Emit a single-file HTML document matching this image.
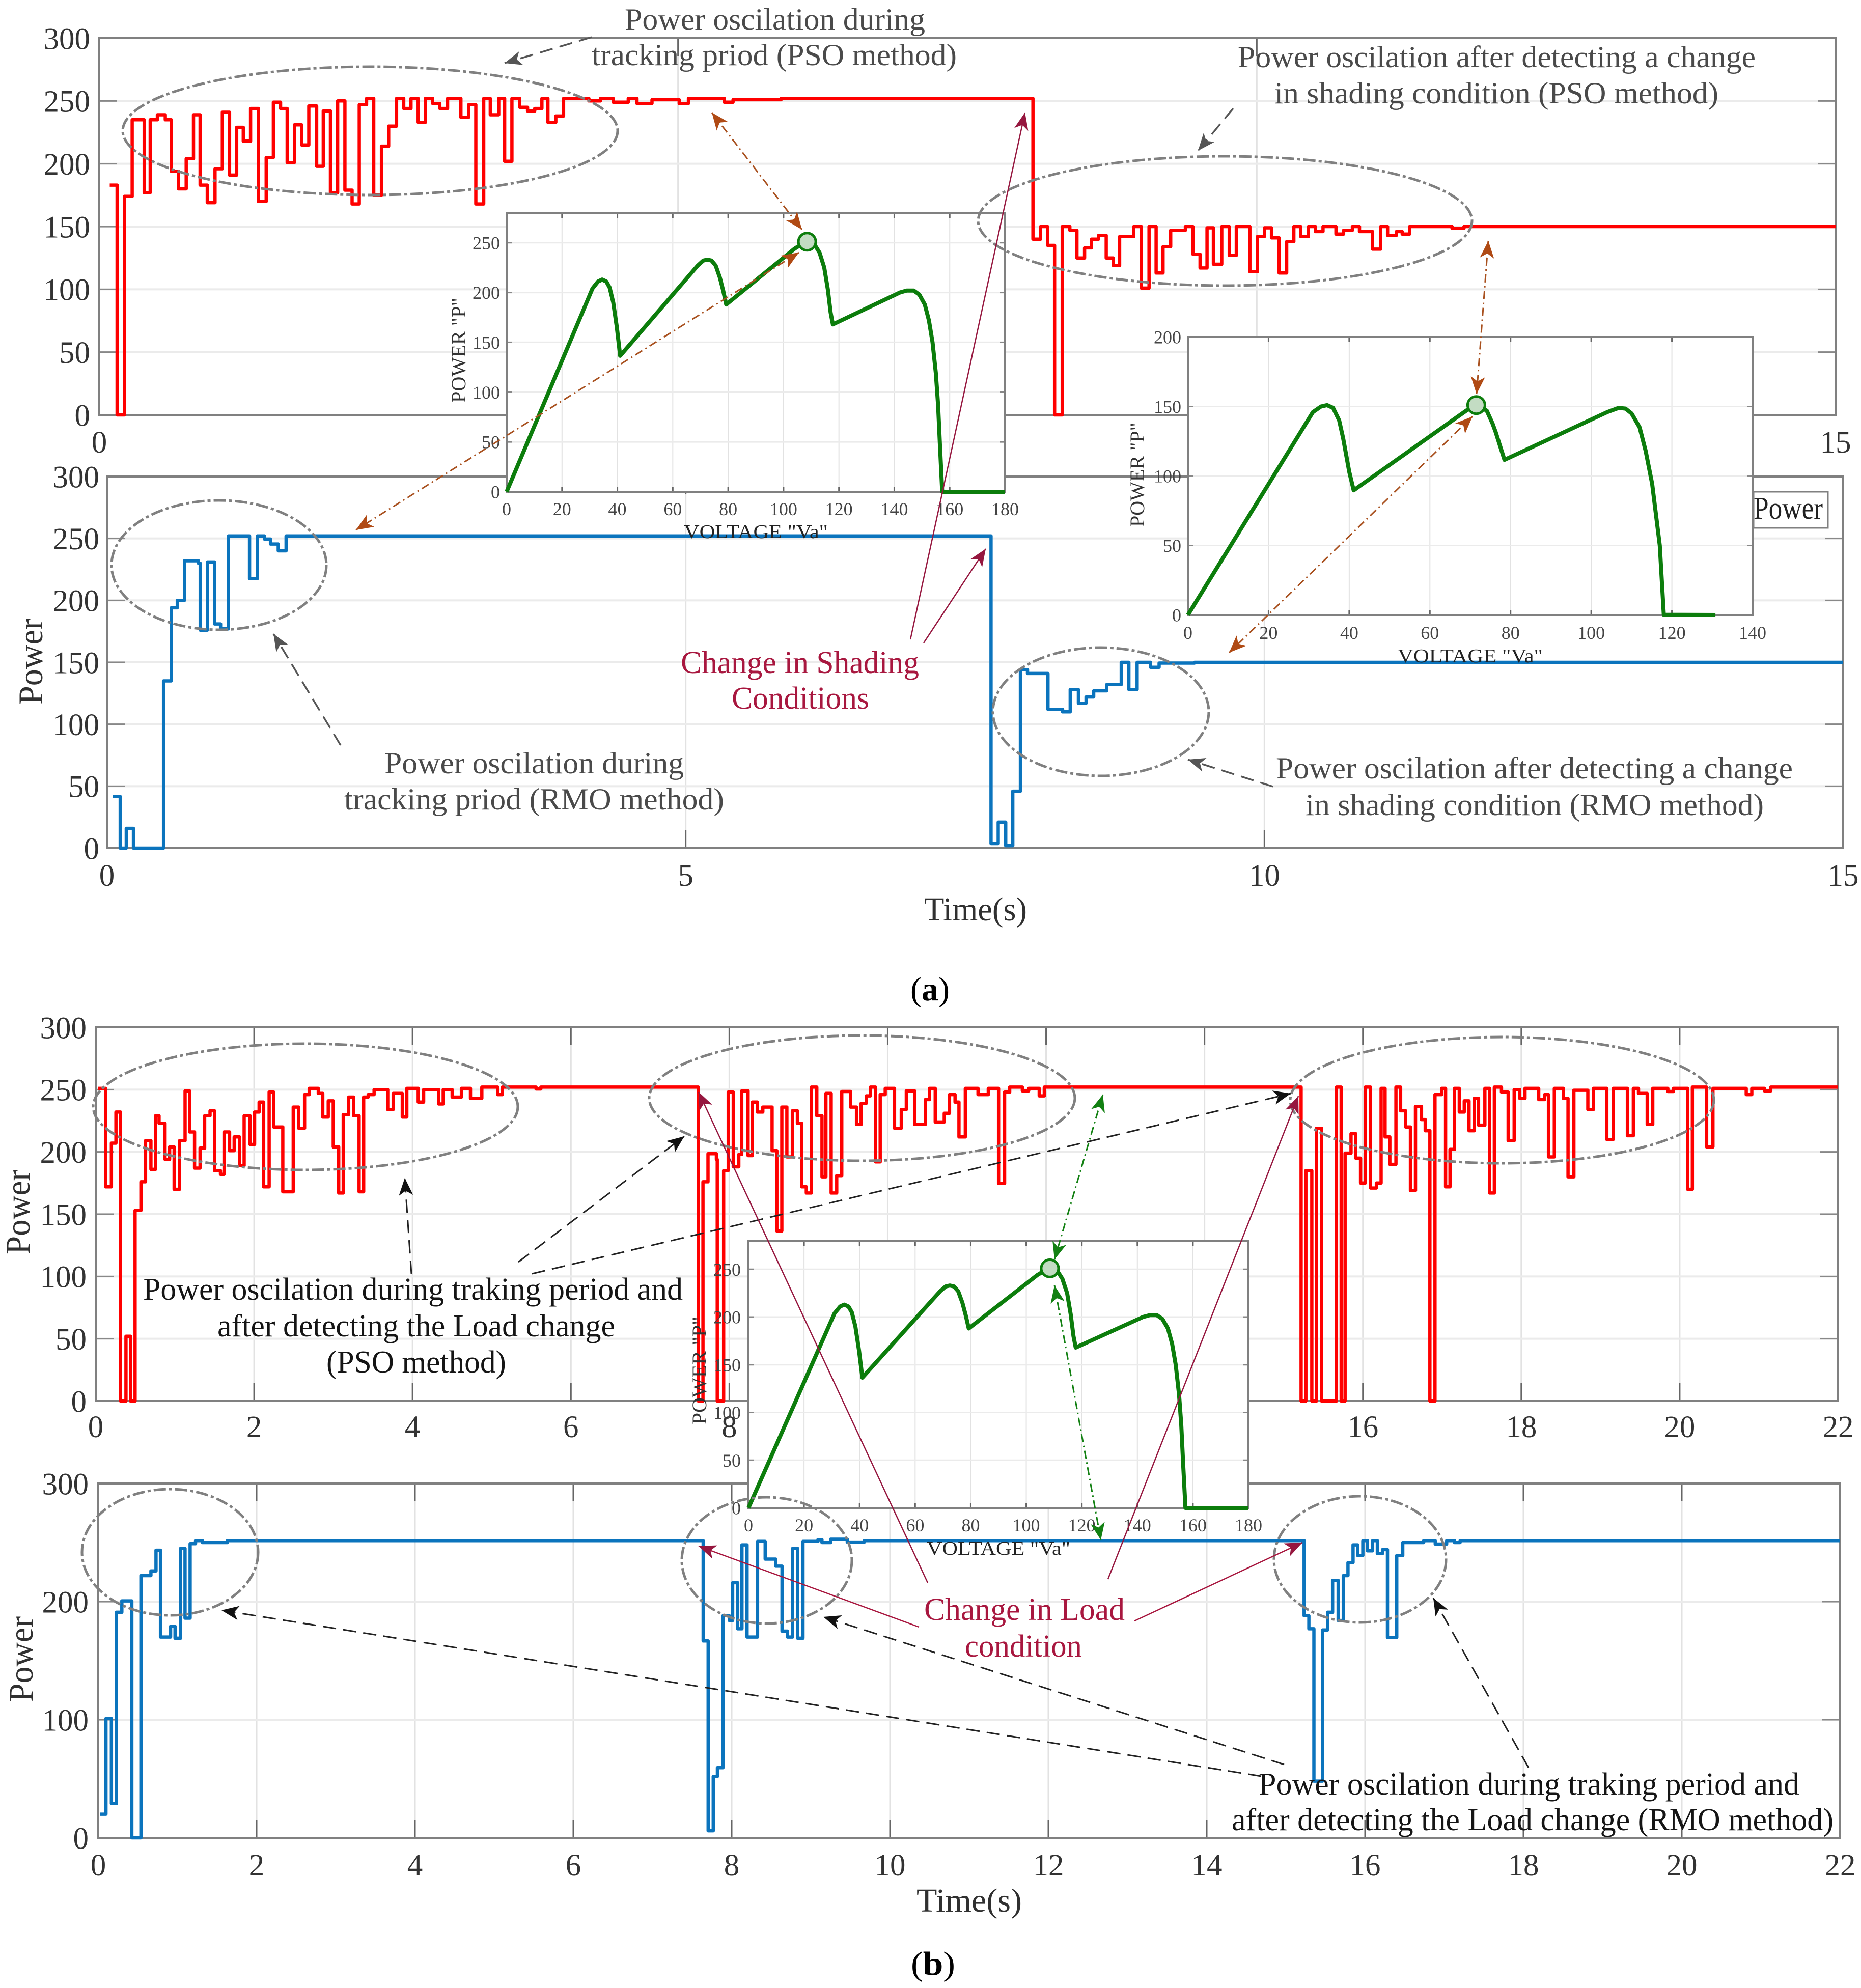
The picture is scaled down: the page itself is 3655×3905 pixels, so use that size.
<!DOCTYPE html>
<html lang="en">
<head>
<meta charset="utf-8">
<title>Power oscillation comparison of PSO and RMO methods</title>
<style>
html,body{margin:0;padding:0;background:#fff;}
svg{display:block;font-family:"Liberation Serif",serif;}
.ann{font-size:60px;fill:#4a4a4a;}
.blk{font-size:62px;fill:#151515;}
.red{font-size:62px;fill:#a8173f;}
.tm{font-size:66px;fill:#303030;}
</style>
</head>
<body>
<svg xmlns="http://www.w3.org/2000/svg" width="3655" height="3905" viewBox="0 0 3655 3905">
<defs>
<marker id="hGray" viewBox="0 0 34 28" refX="34" refY="14" markerWidth="34" markerHeight="28" markerUnits="userSpaceOnUse" orient="auto-start-reverse"><path d="M34,14 L0,0 L9,14 L0,28 Z" fill="#555"/></marker>
<marker id="hBrown" viewBox="0 0 34 28" refX="34" refY="14" markerWidth="34" markerHeight="28" markerUnits="userSpaceOnUse" orient="auto-start-reverse"><path d="M34,14 L0,0 L9,14 L0,28 Z" fill="#b04a14"/></marker>
<marker id="hCrim" viewBox="0 0 34 28" refX="34" refY="14" markerWidth="34" markerHeight="28" markerUnits="userSpaceOnUse" orient="auto-start-reverse"><path d="M34,14 L0,0 L9,14 L0,28 Z" fill="#96173f"/></marker>
<marker id="hBlack" viewBox="0 0 34 28" refX="34" refY="14" markerWidth="34" markerHeight="28" markerUnits="userSpaceOnUse" orient="auto-start-reverse"><path d="M34,14 L0,0 L9,14 L0,28 Z" fill="#111"/></marker>
<marker id="hGreen" viewBox="0 0 34 28" refX="34" refY="14" markerWidth="34" markerHeight="28" markerUnits="userSpaceOnUse" orient="auto-start-reverse"><path d="M34,14 L0,0 L9,14 L0,28 Z" fill="#128012"/></marker>
</defs>
<rect width="3655" height="3905" fill="#fff"/>
<g id="panels"></g>
<g id="insets"></g>

<g fill="none" stroke="#808080" stroke-width="5" stroke-dasharray="24 6 6 6">
<ellipse cx="727" cy="257" rx="486" ry="126"/>
<ellipse cx="2406" cy="434" rx="485" ry="127"/>
<ellipse cx="430" cy="1110" rx="211" ry="127"/>
<ellipse cx="2162" cy="1398" rx="212" ry="126"/>
<ellipse cx="600" cy="2174" rx="417" ry="124"/>
<ellipse cx="1693" cy="2157" rx="418" ry="123"/>
<ellipse cx="2950" cy="2161" rx="416" ry="124"/>
<ellipse cx="334" cy="3049" rx="173" ry="124"/>
<ellipse cx="1506" cy="3065" rx="167" ry="124"/>
<ellipse cx="2671" cy="3063" rx="169" ry="124"/>
</g>

<g fill="none">
<path d="M1162,73 L991,124" stroke="#555" stroke-width="3.5" stroke-dasharray="26 14" marker-end="url(#hGray)"/>
<path d="M2422,213 L2353,296" stroke="#555" stroke-width="3.5" stroke-dasharray="26 14" marker-end="url(#hGray)"/>
<path d="M669,1464 L537,1245" stroke="#555" stroke-width="3.5" stroke-dasharray="26 14" marker-end="url(#hGray)"/>
<path d="M2500,1545 L2333,1492" stroke="#555" stroke-width="3.5" stroke-dasharray="26 14" marker-end="url(#hGray)"/>
<path d="M1398,221 L1575,451" stroke="#a8501e" stroke-width="3" stroke-dasharray="16 7 3 7" marker-start="url(#hBrown)" marker-end="url(#hBrown)"/>
<path d="M1569,496 L699,1041" stroke="#a8501e" stroke-width="3" stroke-dasharray="16 7 3 7" marker-start="url(#hBrown)" marker-end="url(#hBrown)"/>
<path d="M2923,473 L2900,774" stroke="#a8501e" stroke-width="3" stroke-dasharray="16 7 3 7" marker-start="url(#hBrown)" marker-end="url(#hBrown)"/>
<path d="M2892,818 L2414,1282" stroke="#a8501e" stroke-width="3" stroke-dasharray="16 7 3 7" marker-start="url(#hBrown)" marker-end="url(#hBrown)"/>
<path d="M1788,1256 L2013,221" stroke="#96173f" stroke-width="2.5" marker-end="url(#hCrim)"/>
<path d="M1814,1263 L1936,1078" stroke="#96173f" stroke-width="2.5" marker-end="url(#hCrim)"/>
<path d="M808,2502 L795,2314" stroke="#222" stroke-width="3" stroke-dasharray="26 14" marker-end="url(#hBlack)"/>
<path d="M1018,2479 L1344,2232" stroke="#222" stroke-width="3" stroke-dasharray="26 14" marker-end="url(#hBlack)"/>
<path d="M1045,2502 L2535,2148" stroke="#222" stroke-width="3" stroke-dasharray="26 14" marker-end="url(#hBlack)"/>
<path d="M2477,3489 L435,3163" stroke="#222" stroke-width="3" stroke-dasharray="26 14" marker-end="url(#hBlack)"/>
<path d="M2522,3466 L1617,3176" stroke="#222" stroke-width="3" stroke-dasharray="26 14" marker-end="url(#hBlack)"/>
<path d="M3002,3472 L2815,3139" stroke="#222" stroke-width="3" stroke-dasharray="26 14" marker-end="url(#hBlack)"/>
<path d="M2166,2150 L2071,2474" stroke="#128012" stroke-width="3" stroke-dasharray="16 7 3 7" marker-start="url(#hGreen)" marker-end="url(#hGreen)"/>
<path d="M2071,2525 L2162,3025" stroke="#128012" stroke-width="3" stroke-dasharray="16 7 3 7" marker-start="url(#hGreen)" marker-end="url(#hGreen)"/>
<path d="M1822,3109 L1372,2145" stroke="#96173f" stroke-width="2.5" marker-end="url(#hCrim)"/>
<path d="M2176,3102 L2550,2153" stroke="#96173f" stroke-width="2.5" marker-end="url(#hCrim)"/>
<path d="M1805,3196 L1372,3037" stroke="#a8173f" stroke-width="2.5" marker-end="url(#hCrim)"/>
<path d="M2228,3184 L2558,3030" stroke="#a8173f" stroke-width="2.5" marker-end="url(#hCrim)"/>
</g>

<g>
<rect x="3444" y="966" width="146" height="71" fill="#fff" stroke="#808080" stroke-width="3"/>
<text x="3444" y="1019" font-size="62" fill="#222" textLength="136" lengthAdjust="spacingAndGlyphs">Power</text>
</g>

<g>
<text class="ann" x="1227" y="58" textLength="590" lengthAdjust="spacingAndGlyphs">Power oscilation during</text>
<text class="ann" x="1162" y="128" textLength="717" lengthAdjust="spacingAndGlyphs">tracking priod (PSO method)</text>
<text class="ann" x="2431" y="132" textLength="1017" lengthAdjust="spacingAndGlyphs">Power oscilation after detecting a change</text>
<text class="ann" x="2503" y="203" textLength="872" lengthAdjust="spacingAndGlyphs">in shading condition (PSO method)</text>
<text class="ann" x="755" y="1519" textLength="588" lengthAdjust="spacingAndGlyphs">Power oscilation during</text>
<text class="ann" x="676" y="1590" textLength="746" lengthAdjust="spacingAndGlyphs">tracking priod (RMO method)</text>
<text class="red" x="1337" y="1322" textLength="468" lengthAdjust="spacingAndGlyphs">Change in Shading</text>
<text class="red" x="1437" y="1392" textLength="270" lengthAdjust="spacingAndGlyphs">Conditions</text>
<text class="ann" x="2506" y="1529" textLength="1015" lengthAdjust="spacingAndGlyphs">Power oscilation after detecting a change</text>
<text class="ann" x="2564" y="1601" textLength="900" lengthAdjust="spacingAndGlyphs">in shading condition (RMO method)</text>
<text class="tm" x="1815" y="1808" textLength="202" lengthAdjust="spacingAndGlyphs">Time(s)</text>
<text class="tm" x="1788" y="1965" style="fill:#000" textLength="77" lengthAdjust="spacingAndGlyphs">(<tspan font-weight="bold">a</tspan>)</text>
<text class="tm" transform="translate(83,1384) rotate(-90)" style="font-size:68px" textLength="169" lengthAdjust="spacingAndGlyphs">Power</text>
<text class="tm" transform="translate(58,2464) rotate(-90)" style="font-size:68px" textLength="166" lengthAdjust="spacingAndGlyphs">Power</text>
<text class="tm" transform="translate(64,3343) rotate(-90)" style="font-size:68px" textLength="168" lengthAdjust="spacingAndGlyphs">Power</text>
<text class="blk" x="281" y="2553" textLength="1060" lengthAdjust="spacingAndGlyphs">Power oscilation during traking period and</text>
<text class="blk" x="427" y="2625" textLength="781" lengthAdjust="spacingAndGlyphs">after detecting the Load change</text>
<text class="blk" x="641" y="2696" textLength="353" lengthAdjust="spacingAndGlyphs">(PSO method)</text>
<text class="red" x="1815" y="3182" textLength="394" lengthAdjust="spacingAndGlyphs">Change in Load</text>
<text class="red" x="1895" y="3254" textLength="230" lengthAdjust="spacingAndGlyphs">condition</text>
<text class="tm" x="1800" y="3755" textLength="207" lengthAdjust="spacingAndGlyphs">Time(s)</text>
<text class="tm" x="1789" y="3879" style="fill:#000" textLength="87" lengthAdjust="spacingAndGlyphs">(<tspan font-weight="bold">b</tspan>)</text>
<text class="blk" x="2472" y="3525" textLength="1062" lengthAdjust="spacingAndGlyphs">Power oscilation during traking period and</text>
<text class="blk" x="2419" y="3595" textLength="1182" lengthAdjust="spacingAndGlyphs">after detecting the Load change (RMO method)</text>
</g>
</svg>

<script>
const psoShadingSteps=[[0.09,183],[0.154,0],[0.217,174],[0.284,235],[0.388,177],[0.44,235],[0.502,239],[0.57,235],[0.622,194],[0.684,180],[0.751,204],[0.814,239],[0.871,183],[0.933,169],[1.0,196],[1.063,241],[1.125,191],[1.187,229],[1.244,218],[1.307,244],[1.374,170],[1.442,205],[1.504,249],[1.566,244],[1.623,201],[1.686,231],[1.748,215],[1.81,246],[1.878,198],[1.935,242],[1.997,177],[2.059,250],[2.122,179],[2.184,168],[2.246,247],[2.309,252],[2.371,175],[2.438,214],[2.5,230],[2.568,252],[2.63,244],[2.693,252],[2.755,233],[2.817,252],[2.88,248],[2.942,244],[3.009,252],[3.124,237],[3.191,247],[3.253,168],[3.321,252],[3.378,239],[3.451,252],[3.502,202],[3.565,252],[3.632,245],[3.7,242],[3.762,244],[3.824,252],[3.876,233],[3.944,238],[4.011,252],[4.23,250],[4.33,252],[4.44,249],[4.57,252],[4.645,248],[4.775,251],[5.01,248],[5.09,252],[5.4,249],[5.475,251],[5.89,252],[8.066,140],[8.132,150],[8.193,135],[8.253,0],[8.319,150],[8.385,147],[8.446,125],[8.512,133],[8.572,140],[8.633,143],[8.699,125],[8.76,119],[8.815,142],[8.937,150],[9.003,101],[9.069,150],[9.13,113],[9.19,134],[9.256,147],[9.383,150],[9.448,128],[9.51,117],[9.57,149],[9.625,120],[9.697,150],[9.762,127],[9.823,150],[9.94,114],[10.005,142],[10.066,149],[10.127,141],[10.193,113],[10.258,138],[10.32,150],[10.38,142],[10.446,150],[10.507,146],[10.572,150],[10.684,144],[10.75,147],[10.826,150],[10.887,146],[11.0,132],[11.07,150],[11.13,143],[11.206,146],[11.256,144],[11.32,150],[11.687,148.5],[11.79,150],[15,150]];
const rmoShadingSteps=[[0.052,41.7],[0.115,0],[0.167,16],[0.229,0],[0.489,135],[0.556,194],[0.608,200],[0.67,232],[0.79,230],[0.806,176],[0.868,231],[0.93,181],[0.982,177],[1.05,252],[1.232,217.5],[1.299,252],[1.361,249.5],[1.413,245.5],[1.48,240],[1.548,252],[7.638,3.7],[7.7,21],[7.765,2],[7.826,46],[7.892,144],[7.953,141],[8.13,112],[8.256,110],[8.322,128],[8.393,117],[8.459,122],[8.525,127],[8.637,132],[8.763,150],[8.829,128],[8.9,150],[9.016,146],[9.09,149.4],[9.396,150],[15,150]];
const psoLoadSteps=[[0.026,251],[0.124,172],[0.198,207],[0.255,232],[0.313,0],[0.382,52],[0.439,0],[0.497,153],[0.571,176],[0.629,209],[0.697,186],[0.755,229],[0.8,223],[0.875,194],[0.933,204],[0.99,170],[1.059,209],[1.128,249],[1.185,216],[1.248,187],[1.317,203],[1.375,229],[1.443,233],[1.5,185],[1.575,182],[1.621,216],[1.69,201],[1.748,212],[1.816,189],[1.874,229],[1.948,206],[2.006,232],[2.063,240],[2.12,172],[2.19,248],[2.247,220],[2.362,168],[2.494,236],[2.563,219],[2.637,246],[2.695,251],[2.81,247],[2.867,228],[2.936,241],[2.999,204],[3.068,167],[3.125,230],[3.194,244],[3.257,229],[3.326,168],[3.383,244],[3.44,246],[3.515,250],[3.687,234],[3.756,247],[3.871,228],[3.928,251],[4.072,240],[4.14,250],[4.33,238.5],[4.388,250],[4.5,244],[4.617,251],[4.732,243],[4.875,252],[5.076,246],[5.134,252],[5.56,250.5],[5.62,252],[7.608,0],[7.667,176],[7.731,198.5],[7.837,194],[7.848,0],[7.928,185],[7.986,248],[8.05,188],[8.12,198],[8.157,249],[8.237,197],[8.29,240],[8.354,232],[8.423,236],[8.54,201],[8.6,136.5],[8.663,236],[8.727,196],[8.796,233],[8.86,223],[8.914,172],[8.972,167],[9.036,252],[9.105,229],[9.17,180],[9.22,247],[9.286,167],[9.356,181],[9.42,248.5],[9.53,236],[9.606,222],[9.665,239],[9.729,245],[9.782,252],[9.846,192],[9.905,246],[9.969,251],[10.086,219],[10.171,234],[10.235,249],[10.34,222],[10.475,242],[10.528,251],[10.6,224],[10.714,231],[10.78,246],[10.85,240],[10.9,212],[10.98,251],[11.14,246],[11.27,251],[11.4,174.6],[11.476,248],[11.54,252],[11.7,249],[11.78,251],[11.913,245],[11.977,252],[15.22,0],[15.28,185],[15.355,0],[15.414,219],[15.478,0],[15.666,252],[15.725,0],[15.775,199],[15.85,214.6],[15.91,195],[15.97,175],[16.03,252],[16.096,171],[16.17,175],[16.23,251],[16.28,212],[16.34,190],[16.417,252],[16.476,233],[16.54,220],[16.6,169],[16.664,236.5],[16.74,226],[16.787,217],[16.846,0],[16.91,246],[16.995,251],[17.044,172],[17.1,202],[17.157,251],[17.217,232],[17.28,241],[17.34,217],[17.405,243],[17.46,221.5],[17.54,251],[17.6,167],[17.66,252],[17.75,248],[17.834,209],[17.91,250],[17.98,243],[18.047,251],[18.22,242],[18.295,246],[18.343,196],[18.417,251],[18.53,243],[18.59,180],[18.664,249.5],[18.84,234],[18.91,251],[19.08,210],[19.16,251],[19.34,213],[19.415,251],[19.48,247],[19.59,222],[19.66,251],[19.85,248.5],[19.92,251],[20.1,170],[20.16,252],[20.34,204],[20.42,251],[20.84,246],[20.91,251],[21.07,249],[21.15,252],[22,252]];
const rmoLoadSteps=[[0.022,20],[0.097,101],[0.166,29],[0.229,191],[0.298,200.6],[0.424,0],[0.539,222],[0.665,226],[0.729,243.5],[0.786,170],[0.913,179],[0.97,169],[1.039,245],[1.096,186],[1.16,249],[1.228,251.6],[1.315,250],[1.63,251.6],[7.64,166.7],[7.703,6],[7.767,52],[7.82,59.4],[7.89,188],[7.97,184],[8.012,216],[8.076,177],[8.13,248],[8.194,170],[8.327,251],[8.423,236],[8.556,230],[8.636,175],[8.705,170],[8.77,245],[8.833,169],[8.9,251],[9.09,252.5],[9.14,250],[9.25,252.8],[9.46,250.4],[9.675,251.6],[15.23,188],[15.29,177],[15.354,48],[15.463,176],[15.527,191],[15.59,218],[15.66,184],[15.725,222],[15.784,233],[15.848,248],[15.907,239],[15.972,251.6],[16.03,243],[16.095,251.6],[16.155,240.6],[16.22,244],[16.283,169.6],[16.4,239],[16.476,250],[16.74,251.6],[16.886,248.7],[17.03,251.6],[17.13,250],[17.2,251.6],[22,251.6]];

const pvVoltage=[0,31,33,34.5,36,37.2,38.5,39.8,41,69,71,72.5,74,75.5,77,78.2,79.3,104,108.6,111,113,114.7,116,117,117.8,142,144.5,147,149,151,152.5,153.8,155,155.8,156.5,157.3,180];
const pvPower=[0,204,211,213,211,205,190,165,136.5,227,232,233,232,227,215,202,188,244,252,249,240,225,203,180,168,200,202,202,198,188,172,150,119,87,45,0,0];
const pvShadedVoltage=[0,31,33,34.5,36,37.5,38.5,40,41.1,69,71.5,74.1,75.5,76.3,78.5,104,106.8,108.5,110,112,113.5,115.1,117,118,130.8];
const pvShadedPower=[0,146,150,151,149,140,127,103,89.7,147,151.5,147,138,131.7,111.6,146,149,148.5,145,135,118,94.4,50,0.1,0];
const mppVoltage=[108.5];
const mppPower=[251];
const mppShadedVoltage=[71.5];
const mppShadedPower=[151];

const xTicksShading=[0,5,10,15];
const xTicksLoad=[0,2,4,6,8,10,12,14,16,18,20,22];
const yTicksBy50=[0,50,100,150,200,250,300];
const yTicksBy100=[0,100,200,300];
const insetXTicks=[0,20,40,60,80,100,120,140,160,180];
const insetYTicks=[0,50,100,150,200,250];
const shadedXTicks=[0,20,40,60,80,100,120,140];
const shadedYTicks=[0,50,100,150,200];

const NS='http://www.w3.org/2000/svg';
function scale(d0,d1,p0,p1){return v=>p0+(v-d0)*(p1-p0)/(d1-d0);}
function make(parent,tag,attrs){
  const el=document.createElementNS(NS,tag);
  for(const k in attrs) el.setAttribute(k,attrs[k]);
  parent.appendChild(el);
  return el;
}
function line(parent,name,x1,y1,x2,y2,stroke,w){
  const el=make(parent,'line',{x1:x1,y1:y1,x2:x2,y2:y2,stroke:stroke,'stroke-width':w});
  
  
  return el;
}
function label(parent,name,x,y,txt,size,anchor,fill){
  const el=make(parent,'text',{x:x,y:y,'font-size':size,'text-anchor':anchor,fill:fill});
  
  
  el.textContent=txt;
  return el;
}
function drawFrame(host,name,box,xs,ys,xTicks,yTicks,o){
  const g=make(host,'g',{});
  
  
  const bg=make(g,'rect',{x:box.l,y:box.t,width:box.r-box.l,height:box.b-box.t,fill:'#fff'});
  
  
  xTicks.forEach(v=>{
    const x=xs(v);
    if(x>box.l+2&&x<box.r-2){
      line(g,name+'-x-grid',x,box.t,x,box.b,'#e2e2e2',o.gridW);
      line(g,name+'-x-tick-bottom',x,box.b,x,box.b-o.tick,'#666',3);
      line(g,name+'-x-tick-top',x,box.t,x,box.t+o.tick,'#666',3);
    }
    label(g,name+'-x-tick-label',x,o.xLabelY,String(v),o.font,'middle',o.color);
  });
  yTicks.forEach(v=>{
    const y=ys(v);
    if(y>box.t+2&&y<box.b-2){
      line(g,name+'-y-grid',box.l,y,box.r,y,'#ebebeb',o.gridW+1);
      line(g,name+'-y-tick-left',box.l,y,box.l+o.tick,y,'#888',3);
      line(g,name+'-y-tick-right',box.r,y,box.r-o.tick,y,'#888',3);
    }
    label(g,name+'-y-tick-label',o.yLabelX,y+o.font*0.35,String(v),o.font,'end',o.color);
  });
  return g;
}
function drawBorder(g,name,box,w){
  const el=make(g,'rect',{x:box.l,y:box.t,width:box.r-box.l,height:box.b-box.t,fill:'none',stroke:'#808080','stroke-width':w});
  
  
}
function stepPath(steps,xs,ys){
  let d='M'+xs(steps[0][0]).toFixed(1)+','+ys(steps[0][1]).toFixed(1);
  for(let i=1;i<steps.length;i++){
    d+='H'+xs(steps[i][0]).toFixed(1)+'V'+ys(steps[i][1]).toFixed(1);
  }
  return d;
}
function drawPanel(name,box,xMax,steps,color,xTicks,yTicks,o){
  const host=document.getElementById('panels');
  const xs=scale(0,xMax,box.l,box.r);
  const ys=scale(0,300,box.b,box.t);
  const g=drawFrame(host,name,box,xs,ys,xTicks,yTicks,o);
  drawBorder(g,name,box,4);
  const p=make(g,'path',{d:stepPath(steps,xs,ys),fill:'none',stroke:color,'stroke-width':6.5,'stroke-linejoin':'round'});
  
  
}
function drawInset(name,box,xMax,yMax,vArr,pArr,mv,mp,xTicks,yTicks,o){
  const host=document.getElementById('insets');
  const xs=scale(0,xMax,box.l,box.r);
  const ys=scale(0,yMax,box.b,box.t);
  const g=drawFrame(host,name,box,xs,ys,xTicks,yTicks,o);
  drawBorder(g,name,box,4);
  const d=vArr.map((v,i)=>(i?'L':'M')+xs(v).toFixed(1)+','+ys(pArr[i]).toFixed(1)).join('');
  const c=make(g,'path',{d:d,fill:'none',stroke:'#0c7d0c','stroke-width':8,'stroke-linejoin':'round'});
  
  
  const m=make(g,'circle',{cx:xs(mv[0]),cy:ys(mp[0]),r:17,fill:'#c3dcc3',stroke:'#0c7d0c','stroke-width':5});
  
  
  const xt=make(g,'text',{x:o.xTitleX,y:o.xTitleY,'font-size':38,fill:'#222',textLength:o.xTitleLen,lengthAdjust:'spacingAndGlyphs'});
  
  
  xt.textContent='VOLTAGE "Va"';
  const yt=make(g,'text',{transform:'translate('+o.yTitleX+','+o.yTitleY+') rotate(-90)','font-size':40,fill:'#333',textLength:o.yTitleLen,lengthAdjust:'spacingAndGlyphs'});
  
  
  yt.textContent='POWER "P"';
}

drawPanel('panel-pso-shading',{l:195,r:3605,t:75,b:815},15,psoShadingSteps,'#ff0000',xTicksShading,yTicksBy50,{tick:35,gridW:3,font:61,color:'#333',xLabelY:889,yLabelX:177});
drawPanel('panel-rmo-shading',{l:210,r:3620,t:936,b:1666},15,rmoShadingSteps,'#0b74bd',xTicksShading,yTicksBy50,{tick:35,gridW:3,font:61,color:'#333',xLabelY:1740,yLabelX:195});
drawPanel('panel-pso-load',{l:188,r:3610,t:2018,b:2752},22,psoLoadSteps,'#ff0000',xTicksLoad,yTicksBy50,{tick:35,gridW:3,font:61,color:'#333',xLabelY:2823,yLabelX:170});
drawPanel('panel-rmo-load',{l:193,r:3614,t:2914,b:3610},22,rmoLoadSteps,'#0b74bd',xTicksLoad,yTicksBy100,{tick:35,gridW:3,font:61,color:'#333',xLabelY:3684,yLabelX:174});

drawInset('inset-shading-before',{l:995,r:1974,t:418,b:966},180,280,pvVoltage,pvPower,mppVoltage,mppPower,insetXTicks,insetYTicks,{tick:10,gridW:2,font:36,color:'#444',xLabelY:1012,yLabelX:982,xTitleX:1343,xTitleY:1057,xTitleLen:283,yTitleX:914,yTitleY:791,yTitleLen:206});
drawInset('inset-shading-after',{l:2333,r:3442,t:662,b:1208},140,200,pvShadedVoltage,pvShadedPower,mppShadedVoltage,mppShadedPower,shadedXTicks,shadedYTicks,{tick:10,gridW:2,font:36,color:'#444',xLabelY:1255,yLabelX:2320,xTitleX:2745,xTitleY:1301,xTitleLen:285,yTitleX:2247,yTitleY:1035,yTitleLen:205});
drawInset('inset-load',{l:1470,r:2452,t:2437,b:2962},180,280,pvVoltage,pvPower,mppVoltage,mppPower,insetXTicks,insetYTicks,{tick:10,gridW:2,font:36,color:'#444',xLabelY:3008,yLabelX:1455,xTitleX:1820,xTitleY:3054,xTitleLen:282,yTitleX:1387,yTitleY:2798,yTitleLen:212});
</script>
</body>
</html>
